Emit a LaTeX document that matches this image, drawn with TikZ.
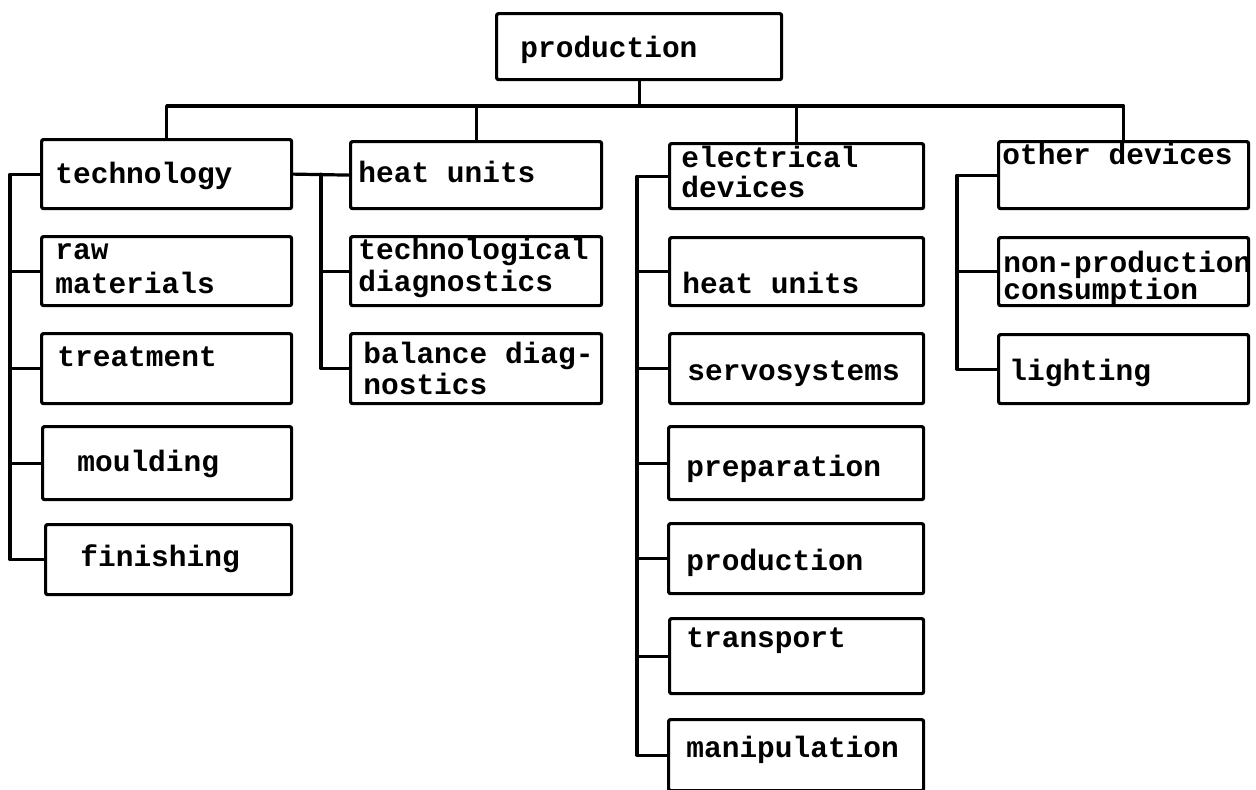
\documentclass[tikz,border=0pt]{standalone}
\usepackage{fontspec}
\newfontfamily\twfont{Liberation Mono}
\begin{document}
\begin{tikzpicture}[x=0.5pt,y=-0.5pt,
  box/.style={draw, line width=1.6pt, rectangle, rounded corners=1pt, inner sep=0pt, anchor=north west},
  lbl/.style={anchor=base west, inner sep=0pt, font=\twfont\bfseries\fontsize{14.75}{17}\selectfont},
  wire/.style={line width=1.6pt, line cap=round, line join=round}]
\useasboundingbox (0,0) rectangle (1256,789);
\newcommand\bx[5]{\node[box, minimum width=#4*0.5pt, minimum height=#5*0.5pt] (#1) at (#2,#3) {};}
% top
\bx{prod}{495}{12}{285}{66}
% column 1
\bx{tech}{40}{138}{250}{69}
\bx{raw}{40}{235}{250}{69}
\bx{treat}{40}{332}{250}{70}
\bx{mould}{41}{425}{249}{73}
\bx{fin}{44}{523}{246}{70}
% column 2
\bx{heat}{349}{140}{251}{67}
\bx{tdiag}{349}{235}{251}{69}
\bx{bal}{349}{332}{251}{70}
% column 3
\bx{elec}{668}{142}{254}{65}
\bx{heatb}{668}{236}{254}{68}
\bx{servo}{668}{332}{254}{70}
\bx{prep}{667}{425}{255}{73}
\bx{prodb}{667}{522}{255}{70}
\bx{trans}{668}{617}{254}{75}
\bx{manip}{667}{718}{255}{71}
% column 4
\bx{other}{997}{140}{250}{67}
\bx{nonp}{997}{236}{250}{68}
\bx{light}{997}{333}{250}{69}
% labels
\node[lbl] (t-prod) at (520,57) {production};
\node[lbl] (t-tech) at (55,183) {technology};
\node[lbl] (t-raw1) at (55,259) {raw};
\node[lbl] (t-raw2) at (55,293) {materials};
\node[lbl] (t-treat) at (57,366) {treatment};
\node[lbl] (t-mould) at (77,471) {moulding};
\node[lbl] (t-fin) at (80,566) {finishing};
\node[lbl] (t-heat) at (358,182) {heat units};
\node[lbl] (t-tdiag1) at (358,259) {technological};
\node[lbl] (t-tdiag2) at (358,291) {diagnostics};
\node[lbl] (t-bal1) at (363,363) {balance diag-};
\node[lbl] (t-bal2) at (363,394) {nostics};
\node[lbl] (t-elec1) at (681,167) {electrical};
\node[lbl] (t-elec2) at (681,197) {devices};
\node[lbl] (t-heatb) at (682,293) {heat units};
\node[lbl] (t-servo) at (687,380) {servosystems};
\node[lbl] (t-prep) at (686,476) {preparation};
\node[lbl] (t-prodb) at (686,570) {production};
\node[lbl] (t-trans) at (686,647) {transport};
\node[lbl] (t-manip) at (686,757) {manipulation};
\node[lbl] (t-other) at (1002,164) {other devices};
\node[lbl] (t-nonp1) at (1003,272) {non-production};
\node[lbl] (t-nonp2) at (1003,299) {consumption};
\node[lbl] (t-light) at (1009,380) {lighting};
% connectors
\coordinate (bus) at (0,106);
\coordinate (sp1) at (10,0);
\coordinate (sp2) at (321,0);
\coordinate (sp3) at (637,0);
\coordinate (sp4) at (957,0);
\draw[wire] (prod.south) -- (prod.south |- bus);
\draw[wire] (tech.north) -- (tech.north |- bus) -- (other.north |- bus) -- (other.north);
\draw[wire] (heat.north) -- (heat.north |- bus);
\draw[wire] (elec.north) -- (elec.north |- bus);
% column 1 spine
\draw[wire] (tech.west) -- (tech.west -| sp1) -- (fin.west -| sp1) -- (fin.west);
\draw[wire] (raw.west) -- (raw.west -| sp1);
\draw[wire] (treat.west) -- (treat.west -| sp1);
\draw[wire] (mould.west) -- (mould.west -| sp1);
% column 2 spine
\draw[wire] (tech.east) -- (heat.west);
\draw[wire] (tech.east -| sp2) -- (bal.west -| sp2) -- (bal.west);
\draw[wire] (tdiag.west) -- (tdiag.west -| sp2);
% column 3 spine
\draw[wire] (elec.west) -- (elec.west -| sp3) -- (manip.west -| sp3) -- (manip.west);
\draw[wire] (heatb.west) -- (heatb.west -| sp3);
\draw[wire] (servo.west) -- (servo.west -| sp3);
\draw[wire] (prep.west) -- (prep.west -| sp3);
\draw[wire] (prodb.west) -- (prodb.west -| sp3);
\draw[wire] (trans.west) -- (trans.west -| sp3);
% column 4 spine
\draw[wire] (other.west) -- (other.west -| sp4) -- (light.west -| sp4) -- (light.west);
\draw[wire] (nonp.west) -- (nonp.west -| sp4);
\end{tikzpicture}
\end{document}
